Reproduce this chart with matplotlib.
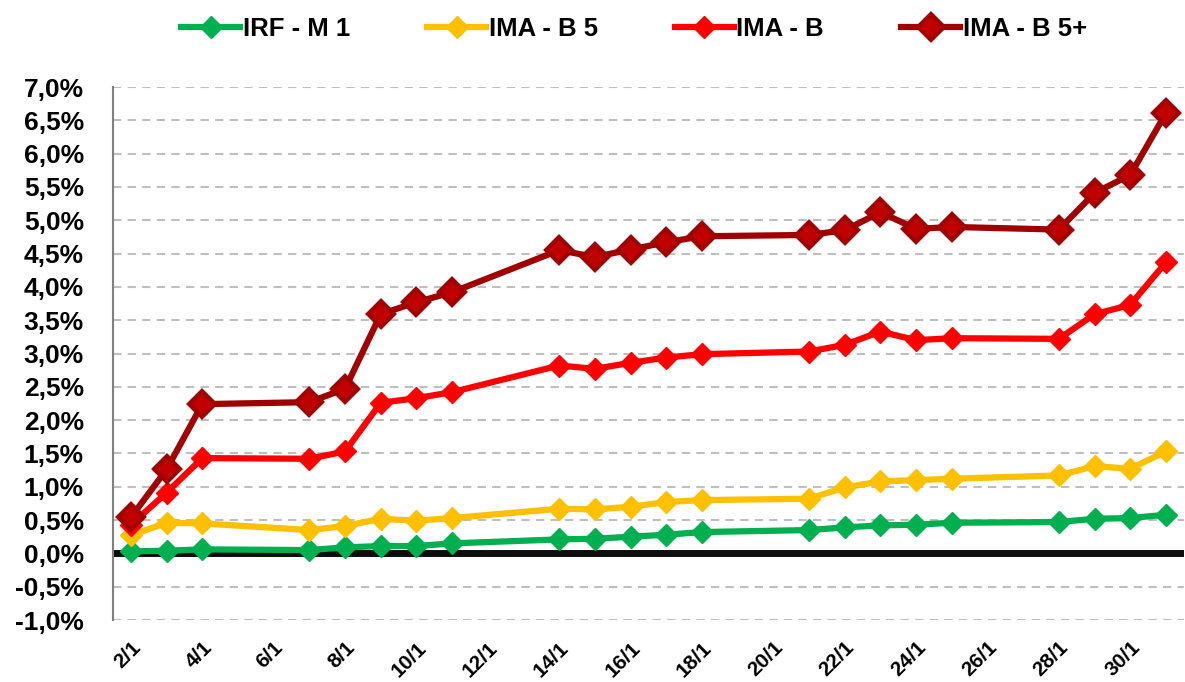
import matplotlib.pyplot as plt
from matplotlib.ticker import FuncFormatter, MultipleLocator
from matplotlib.transforms import ScaledTranslation

# dias úteis de janeiro
days = [2, 3, 4, 7, 8, 9, 10, 11, 14, 15, 16, 17, 18, 21, 22, 23, 24, 25, 28, 29, 30, 31]

irf_m1 = [0.03, 0.04, 0.06, 0.05, 0.09, 0.11, 0.11, 0.15, 0.21, 0.22, 0.25,
          0.28, 0.32, 0.35, 0.39, 0.42, 0.43, 0.46, 0.47, 0.52, 0.53, 0.58]
ima_b5 = [0.27, 0.46, 0.45, 0.35, 0.41, 0.52, 0.49, 0.53, 0.67, 0.66, 0.70,
          0.77, 0.80, 0.82, 0.99, 1.08, 1.10, 1.12, 1.17, 1.31, 1.27, 1.53]
ima_b = [0.43, 0.91, 1.43, 1.42, 1.53, 2.26, 2.33, 2.42, 2.82, 2.77, 2.86,
         2.94, 2.99, 3.03, 3.13, 3.33, 3.20, 3.23, 3.22, 3.59, 3.73, 4.37]
ima_b5p = [0.54, 1.26, 2.24, 2.27, 2.47, 3.59, 3.77, 3.92, 4.55, 4.45, 4.56,
           4.67, 4.76, 4.78, 4.85, 5.12, 4.87, 4.90, 4.86, 5.41, 5.68, 6.61]

series_names = ["IRF - M 1", "IMA - B 5", "IMA - B", "IMA - B 5+"]
tick_days = list(range(2, 31, 2))

plt.rcParams["font.family"] = ["Liberation Sans Narrow", "Liberation Sans", "DejaVu Sans"]
plt.rcParams["font.weight"] = "bold"

fig = plt.figure(figsize=(11.85, 6.82), dpi=100)
ax = fig.add_axes([0.0954, 0.0909, 0.9036, 0.7815])

ax.plot(days, irf_m1, color="#00B050", lw=4.5, marker="D", ms=11,
        mfc="#00B050", mec="#00B050", label=series_names[0], zorder=3)
ax.plot(days, ima_b5, color="#FFC000", lw=4.5, marker="D", ms=11,
        mfc="#FFC000", mec="#FFC000", label=series_names[1], zorder=3)
ax.plot(days, ima_b, color="#FF0000", lw=4.5, marker="D", ms=11,
        mfc="#FF0000", mec="#FF0000", label=series_names[2], zorder=3)
ax.plot(days, ima_b5p, color="#A00000", lw=4.5, marker="D", ms=13,
        mfc="#C00000", mec="#A00000", mew=3, label=series_names[3], zorder=3)

ax.set_xlim(1.5, 31.5)
ax.set_ylim(-1.0, 7.0)
ax.yaxis.set_major_locator(MultipleLocator(0.5))
ax.yaxis.set_major_formatter(
    FuncFormatter(lambda v, _: f"{v:.1f}%".replace(".", ",")))
ax.set_xticks(tick_days)
ax.set_xticklabels([f"{d}/1" for d in tick_days], rotation=45,
                   ha="right", va="top", rotation_mode="anchor")
shift = ScaledTranslation(6 / 100, 0, fig.dpi_scale_trans)
for lbl in ax.get_xticklabels():
    lbl.set_transform(lbl.get_transform() + shift)

ax.grid(axis="y", color="#BFBFBF", ls=(0, (4, 3)), lw=1.5)
ax.axhline(0, color="#0D0D0D", lw=5, zorder=2)

for side in ["top", "right", "bottom"]:
    ax.spines[side].set_visible(False)
ax.spines["left"].set_color("#808080")
ax.spines["left"].set_linewidth(1.5)
ax.tick_params(axis="y", length=0, labelsize=19, colors="black", pad=21)
ax.tick_params(axis="x", length=0, labelsize=15, colors="black", pad=13)

fig.legend(loc="center", bbox_to_anchor=(0.535, 0.958), ncol=4, frameon=False,
           fontsize=18.5, handlelength=2.3, handletextpad=0.1, columnspacing=3.0)

fig.savefig("out.png", dpi=100)
